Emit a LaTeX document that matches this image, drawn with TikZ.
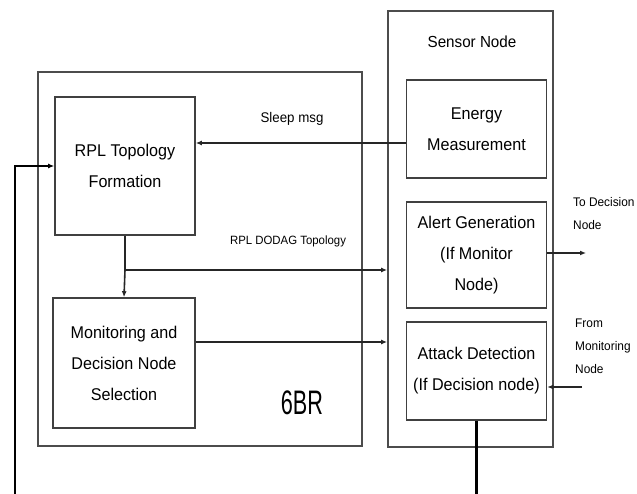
\documentclass[tikz,border=0pt]{standalone}
\usepackage{fontspec}
\setmainfont[FakeStretch=0.95]{Liberation Sans}
\usetikzlibrary{arrows.meta}
\begin{document}
\begin{tikzpicture}[x=1pt,y=-1pt,
  box/.style={draw=black!75,line width=1.6pt,align=center,inner sep=0pt,font=\fontsize{17}{31}\selectfont},
  outer/.style={draw=black!70,line width=1.8pt,inner sep=0pt},
  conn/.style={draw=black!85,line width=1.6pt,-{Latex[length=6pt,width=5pt]}},
  line/.style={draw=black!85,line width=1.6pt},
  lbl/.style={font=\fontsize{12.5}{23}\selectfont,align=left,inner sep=0pt}]
\useasboundingbox (0,0) rectangle (637,494);
\clip (0,0) rectangle (637,494);
% containers
\node[outer,minimum width=324pt,minimum height=374pt] (br) at (200,259) {};
\node[outer,minimum width=165pt,minimum height=436pt] (sensor) at (470.5,229) {};
\node[font=\fontsize{16}{18}\selectfont] (sensorlbl) at (472,42) {Sensor Node};
\node[font=\fontsize{34}{36}\selectfont,xscale=0.67] (brlbl) at (302,403) {6BR};
% inner boxes
\node[box,minimum width=140pt,minimum height=138pt] (rpl) at (125,166) {RPL Topology\\Formation};
\node[box,minimum width=142pt,minimum height=130pt] (mon) at (124,363) {Monitoring and\\Decision Node\\Selection};
\node[box,minimum width=140pt,minimum height=98pt] (energy) at (476.5,129) {Energy\\Measurement};
\node[box,minimum width=140pt,minimum height=106pt] (alert) at (476.5,255) {Alert Generation\\(If Monitor\\Node)};
\node[box,minimum width=140pt,minimum height=98pt] (attack) at (476.5,371) {Attack Detection\\(If Decision node)};
% labels
\node[lbl,font=\fontsize{14}{16}\selectfont] (sleeplbl) at (292,119) {Sleep msg};
\node[lbl,font=\fontsize{12}{14}\selectfont] (dodag) at (288,241) {RPL DODAG Topology};
\node[lbl,anchor=north west] (tolbl) at (573,197) {To Decision\\Node};
\node[lbl,anchor=north west] (fromlbl) at (575,319) {From\\Monitoring\\Node};
% coordinates
\coordinate (ys) at (0,143);
\coordinate (j) at (125,270);
\coordinate (ym) at (0,342);
\coordinate (ya) at (0,253);
\coordinate (toend) at (586,253);
\coordinate (fromstart) at (582,387);
\coordinate (yf) at (0,387);
\coordinate (yl) at (0,166);
\coordinate (lx) at (15,0);
% connectors
\draw[conn] (energy.west |- ys) -- (rpl.east |- ys);
\draw[line] (rpl.south) -- (j);
\draw[conn] (j) -- (mon.north);
\draw[conn] (j) -- (sensor.west |- j);
\draw[conn] (mon.east |- ym) -- (sensor.west |- ym);
\draw[conn] (alert.east |- ya) -- (toend);
\draw[conn] (fromstart) -- (attack.east |- yf);
\draw[conn,line width=2.2pt,draw=black] (attack.south) -- ++(0,90) -| (lx |- yl) -- (rpl.west |- yl);
\end{tikzpicture}
\end{document}
